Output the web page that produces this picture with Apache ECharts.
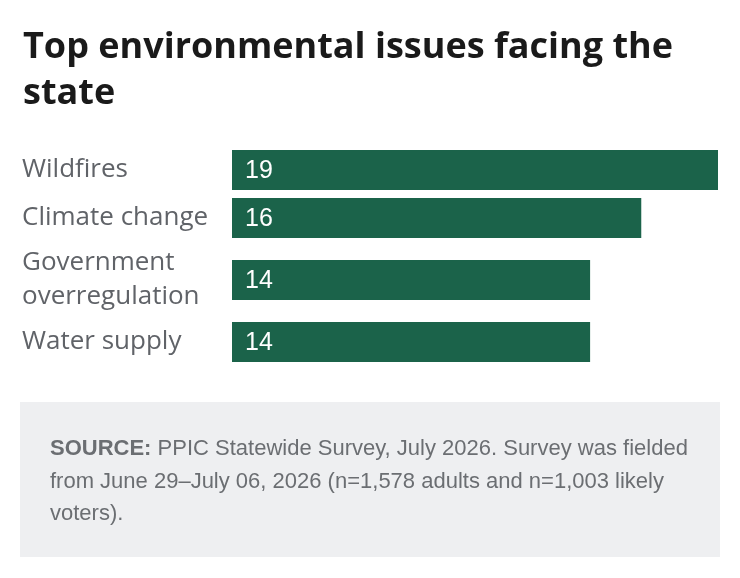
<!DOCTYPE html>
<html>
<head>
<meta charset="utf-8">
<script src="https://cdn.jsdelivr.net/npm/echarts@6/dist/echarts.min.js"></script>
<style>
  html, body { margin: 0; padding: 0; background: #fff; }
  #chart { width: 740px; height: 578px; }
</style>
</head>
<body>
<div id="chart"></div>
<script>
// data
const categories = ["Wildfires", "Climate change", "Government\noverregulation", "Water supply"]
const values = [19, 16, 14, 14]
const axisMax = 19

// layout of each row (top of bar band)
const rowTops = [150, 198, 260, 322]
const barH = 40

const chart = echarts.init(document.getElementById("chart"))

const grids = []
const xAxes = []
const yAxes = []
const series = []
categories.forEach((cat, i) => {
  grids.push({ left: 232, right: 22, top: rowTops[i], height: barH })
  xAxes.push({
    gridIndex: i, type: "value", min: 0, max: axisMax,
    show: false
  })
  yAxes.push({
    gridIndex: i, type: "category", data: [cat],
    axisLine: { show: false }, axisTick: { show: false },
    axisLabel: {
      margin: 210, align: "left",
      color: "#606368", fontSize: 26, lineHeight: 34,
      fontFamily: "Open Sans"
    }
  })
  series.push({
    type: "bar", xAxisIndex: i, yAxisIndex: i,
    data: [values[i]], barWidth: barH,
    itemStyle: { color: "#1b634a" },
    label: {
      show: true, position: "insideLeft", distance: 13, offset: [0, 1],
      color: "#fff", fontSize: 25, fontFamily: "Liberation Sans"
    },
    animation: false
  })
})

chart.setOption({
  animation: false,
  title: {
    text: "Top environmental issues facing the\nstate",
    left: 18, top: 20,
    textStyle: {
      fontFamily: "Open Sans", fontWeight: "bold", fontSize: 36,
      lineHeight: 46, color: "#1a1a1a"
    }
  },
  grid: grids,
  xAxis: xAxes,
  yAxis: yAxes,
  series: series,
  graphic: [
    {
      type: "rect", left: 20, top: 402,
      shape: { width: 700, height: 155 },
      style: { fill: "#eeeff1" }
    },
    {
      type: "text", left: 50, top: 433,
      style: {
        text: "{b|SOURCE:} PPIC Statewide Survey, July 2026. Survey was fielded\nfrom June 29\u2013July 06, 2026 (n=1,578 adults and n=1,003 likely\nvoters).",
        fill: "#6b6e72", fontSize: 22, lineHeight: 32.5,
        fontFamily: "Liberation Sans",
        rich: {
          b: { fontWeight: "bold", fontSize: 22, lineHeight: 32.5, fill: "#6b6e72", fontFamily: "Liberation Sans" }
        }
      }
    }
  ]
})
</script>
</body>
</html>
